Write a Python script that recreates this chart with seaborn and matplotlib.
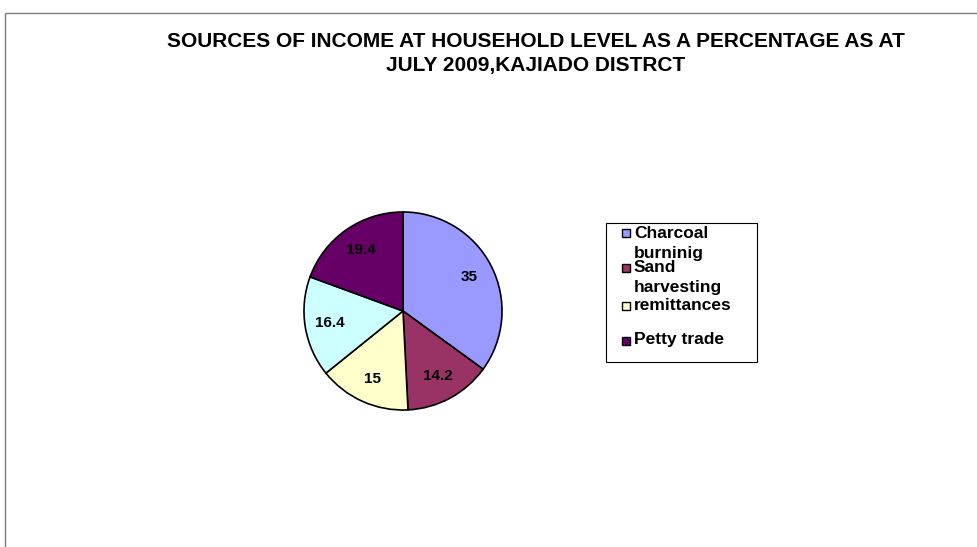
#Grafico de pastel: fuentes de ingreso, Kajiado
import matplotlib
matplotlib.use('Agg')
import seaborn as sns
import matplotlib.pyplot as plt
from matplotlib.patches import Rectangle

#Datos
categorias = ['Charcoal\nburninig', 'Sand\nharvesting', 'remittances', '', 'Petty trade']
valores = [35, 14.2, 15, 16.4, 19.4]
colores = ['#9999FF', '#993366', '#FFFFCC', '#CCFFFF', '#660066']
titulo = ['SOURCES OF INCOME AT HOUSEHOLD LEVEL AS A PERCENTAGE AS AT',
          'JULY 2009,KAJIADO DISTRCT']

sns.set_style('white')
plt.rcParams['font.family'] = ['Liberation Sans', 'DejaVu Sans']
plt.rcParams['text.color'] = 'black'

W, H = 977, 547
fig = plt.figure(figsize=(W / 100, H / 100), dpi=100)

def fx(x):
    return x / W

def fy(y):
    return 1 - y / H

#Marco del area del grafico (cortado a la derecha y abajo)
fig.patches.append(Rectangle((fx(5), -0.2), 1.2, fy(13) + 0.2, transform=fig.transFigure,
                             facecolor='none', edgecolor='#7f7f7f', linewidth=1.0))

#Pastel
cx, cy, r = 403, 311, 101
ax = fig.add_axes([fx(cx - r), fy(cy + r), 2 * r / W, 2 * r / H])
wedges, textos = ax.pie(valores, colors=colores, startangle=90, counterclock=False,
                        labels=[str(v) for v in valores], labeldistance=0.75,
                        wedgeprops=dict(edgecolor='black', linewidth=1.2),
                        textprops=dict(fontsize=11, fontweight='bold', ha='center',
                                       va='center', color='black'))
ax.set_xlim(-1.02, 1.02)
ax.set_ylim(-1.02, 1.02)
ax.set_aspect('equal')
ax.axis('off')

#Titulo
for linea, yb in zip(titulo, [47, 71]):
    fig.text(fx(536), fy(yb), linea, ha='center', va='baseline', fontsize=15,
             fontweight='bold')

#Leyenda (solo cuatro entradas visibles, como en el original)
fig.patches.append(Rectangle((fx(606), fy(362)), fx(757) - fx(606), fy(223) - fy(362),
                             transform=fig.transFigure, facecolor='white',
                             edgecolor='black', linewidth=0.8))
#base del marcador y lineas base del texto de cada entrada
entradas = {0: (237, [238, 258]), 1: (272, [272, 292]), 2: (310, [310]), 4: (345, [344])}
for i, (ym, bases) in entradas.items():
    fig.patches.append(Rectangle((fx(622), fy(ym)), 8 / W, 8 / H, transform=fig.transFigure,
                                 facecolor=colores[i], edgecolor='black', linewidth=1.0))
    for parte, yb in zip(categorias[i].split('\n'), bases):
        fig.text(fx(634), fy(yb), parte, ha='left', va='baseline', fontsize=12.5,
                 fontweight='bold')

fig.savefig('out.png', dpi=100)
